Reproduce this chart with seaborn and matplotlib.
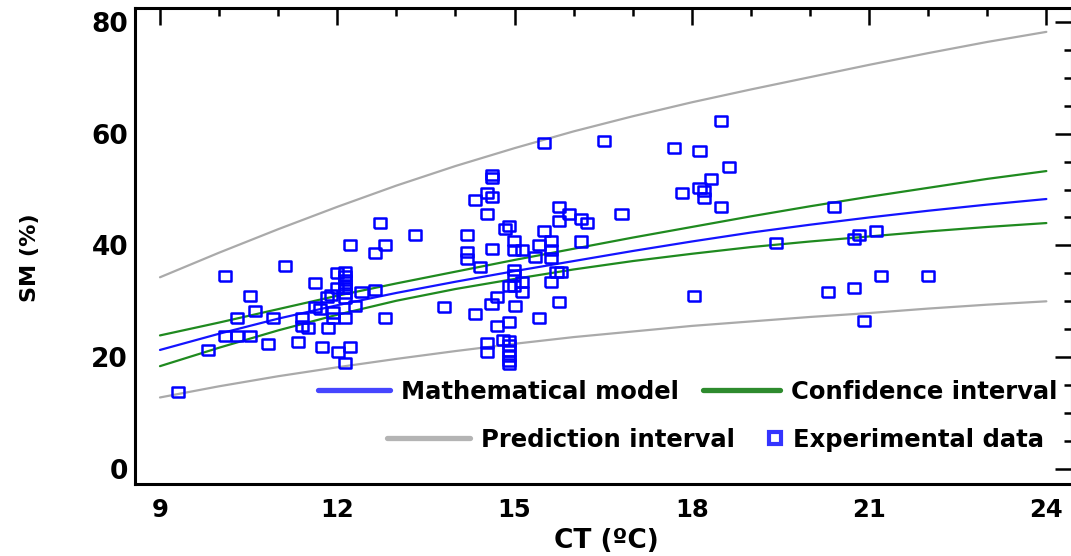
import numpy as np
import pandas as pd
import matplotlib
matplotlib.use("Agg")
import matplotlib.pyplot as plt
from matplotlib.lines import Line2D
from matplotlib.markers import MarkerStyle
from matplotlib.ticker import MultipleLocator
import seaborn as sns

# ---------------- data ----------------
ct_grid = [9, 10, 11, 12, 13, 14, 15, 16, 17, 18, 19, 20, 21, 22, 23, 24]
model_sm = [21.3, 24.2, 26.9, 29.3, 31.5, 33.5, 35.4, 37.2, 39.0, 40.7, 42.3, 43.7, 45.0, 46.2, 47.3, 48.3]
conf_upper = [23.9, 26.2, 28.6, 31.0, 33.2, 35.3, 37.4, 39.4, 41.4, 43.3, 45.2, 47.0, 48.7, 50.3, 51.9, 53.3]
conf_lower = [18.4, 21.7, 24.8, 27.6, 30.1, 32.2, 34.0, 35.7, 37.2, 38.5, 39.7, 40.7, 41.6, 42.5, 43.3, 44.0]
pred_upper = [34.3, 38.7, 42.9, 46.9, 50.7, 54.2, 57.4, 60.4, 63.1, 65.6, 67.9, 70.1, 72.3, 74.4, 76.4, 78.2]
pred_lower = [12.8, 14.8, 16.6, 18.2, 19.7, 21.1, 22.4, 23.6, 24.6, 25.6, 26.4, 27.2, 27.9, 28.7, 29.4, 30.0]

exp_ct = [9.31, 9.81, 10.10, 10.10, 10.31, 10.31, 10.52, 10.53, 10.61, 10.82,
          10.91, 11.12, 11.33, 11.41, 11.41, 11.50, 11.62, 11.62, 11.71, 11.74,
          11.84, 11.82, 11.90, 11.92, 11.92, 11.99, 11.99, 12.01, 12.13, 12.13,
          12.13, 12.13, 12.13, 12.13, 12.13, 12.13, 12.13, 12.21, 12.21, 12.30,
          12.41, 12.64, 12.64, 12.81, 12.81, 12.72, 13.31, 13.81, 14.20, 14.20,
          14.20, 14.33, 14.33, 14.41, 14.54, 14.54, 14.54, 14.54, 14.61, 14.62,
          14.62, 14.62, 14.62, 14.71, 14.71, 14.81, 14.84, 14.91, 14.91, 14.91,
          14.91, 14.91, 14.91, 14.91, 14.91, 14.91, 14.99, 14.99, 14.99, 14.99,
          14.99, 15.01, 15.13, 15.13, 15.13, 15.35, 15.42, 15.42, 15.50, 15.50,
          15.62, 15.62, 15.62, 15.62, 15.71, 15.78, 15.76, 15.76, 15.76, 15.92,
          16.13, 16.22, 16.13, 16.52, 16.81, 17.70, 17.83, 18.04, 18.13, 18.13,
          18.21, 18.21, 18.33, 18.49, 18.50, 18.63, 19.43, 20.31, 20.40, 20.74,
          20.74, 20.83, 20.91, 21.11, 21.20, 22.00]
exp_sm = [13.7, 21.3, 34.6, 23.8, 23.8, 27.1, 31.0, 23.8, 28.3, 22.4,
          27.1, 36.4, 22.8, 27.1, 25.6, 25.3, 33.2, 29.0, 28.6, 21.8,
          25.3, 30.7, 31.1, 28.0, 27.0, 35.0, 32.4, 21.0, 35.3, 34.5,
          33.8, 33.0, 32.3, 31.5, 30.6, 27.1, 18.9, 21.8, 40.1, 29.2,
          31.7, 32.1, 38.6, 40.1, 27.1, 44.0, 41.8, 28.9, 41.8, 38.8,
          37.5, 48.2, 27.8, 36.1, 49.3, 45.7, 22.5, 21.0, 29.5, 52.6,
          52.0, 48.7, 39.3, 30.8, 25.6, 23.0, 42.9, 43.5, 26.3, 32.7,
          22.9, 22.1, 21.2, 20.3, 19.4, 18.8, 40.8, 39.1, 35.6, 34.7,
          32.7, 29.2, 39.1, 33.5, 31.7, 38.0, 40.0, 27.1, 42.6, 58.4,
          40.8, 39.2, 37.7, 33.5, 35.3, 35.3, 46.9, 44.4, 29.9, 45.7,
          44.7, 44.0, 40.7, 58.7, 45.7, 57.5, 49.3, 31.0, 56.9, 50.3,
          49.8, 48.5, 51.8, 46.8, 62.3, 54.0, 40.4, 31.7, 46.8, 41.1,
          32.4, 41.9, 26.4, 42.6, 34.6, 34.6]

x_ticks = [9, 12, 15, 18, 21, 24]
y_ticks = [0, 20, 40, 60, 80]
legend_labels = ["Mathematical model", "Confidence interval",
                 "Prediction interval", "Experimental data"]
x_label = "CT (ºC)"
y_label = "SM (%)"

# ---------------- style ----------------
sns.set_style("white")
plt.rcParams["font.family"] = ["DejaVu Sans"]
plt.rcParams["font.weight"] = "bold"
for k in ["text.color", "axes.labelcolor", "xtick.color", "ytick.color"]:
    plt.rcParams[k] = "black"

W, H = 1071, 556
fig = plt.figure(figsize=(W / 100, H / 100), dpi=100)
ax_l, ax_r, ax_t, ax_b = 135, 1072, 8, 484
ax = fig.add_axes([ax_l / W, 1 - ax_b / H, (ax_r - ax_l) / W, (ax_b - ax_t) / H])

c_model = "#1414ff"
c_conf = "#1f8a1f"
c_pred = "#aaaaaa"
c_pts = "#0000ff"

lines_df = pd.DataFrame({"ct": ct_grid, "model": model_sm, "cu": conf_upper,
                         "cl": conf_lower, "pu": pred_upper, "pl": pred_lower})
for col, colr in [("pu", c_pred), ("pl", c_pred), ("cu", c_conf), ("cl", c_conf), ("model", c_model)]:
    sns.lineplot(data=lines_df, x="ct", y=col, color=colr, lw=1.6, ax=ax)

rect = MarkerStyle([(-0.6, -0.5), (0.6, -0.5), (0.6, 0.5), (-0.6, 0.5), (-0.6, -0.5)])
pts_df = pd.DataFrame({"ct": exp_ct, "sm": exp_sm})
sns.scatterplot(data=pts_df, x="ct", y="sm", marker=rect, s=75,
                facecolor="none", edgecolor=c_pts, linewidth=1.8, ax=ax, zorder=5)

ax.set_xlim(8.577, 24.434)
ax.set_ylim(-2.68, 82.47)
ax.set_xticks(x_ticks)
ax.set_yticks(y_ticks)
ax.xaxis.set_minor_locator(MultipleLocator(1))
ax.yaxis.set_minor_locator(MultipleLocator(5))
ax.tick_params(which="both", direction="in", top=True, right=True, width=1.8, color="black")
ax.tick_params(which="major", length=12)
ax.tick_params(which="minor", length=5.5)
ax.tick_params(axis="y", which="major", labelsize=19, pad=5)
ax.tick_params(axis="x", which="major", labelsize=17.5, pad=10)
for lab in ax.get_xticklabels() + ax.get_yticklabels():
    lab.set_fontweight("bold")
for sp in ax.spines.values():
    sp.set_linewidth(2.2)
    sp.set_color("black")

ax.set_xlabel(x_label, fontsize=19, fontweight="bold")
ax.set_ylabel(y_label, fontsize=16, fontweight="bold")
ax.xaxis.set_label_coords(0.503, -0.093)
ax.yaxis.set_label_coords(-0.1016, 0.475)

# ---------------- legend ----------------
handles = [Line2D([], [], color="#4646ff", lw=3.8),
           Line2D([], [], color="#2e8b2e", lw=3.8),
           Line2D([], [], color="#b4b4b4", lw=3.8),
           Line2D([], [], ls="none", marker="s", markersize=8, mfc="white",
                  mec="#3434ff", mew=3)]
fs_leg = 17.5
positions = [(318, 392, 72), (703, 392, 77), (387, 440, 83), (768, 440, 14)]
for h, lab, (px, py, hl_px) in zip(handles, legend_labels, positions):
    fig.legend(handles=[h], labels=[lab], loc="center left",
               bbox_to_anchor=(px / W, 1 - py / H), frameon=False,
               borderpad=0, borderaxespad=0,
               handlelength=hl_px / (fs_leg * 100 / 72),
               handletextpad=0.45,
               prop={"size": fs_leg, "weight": "bold"})

fig.savefig("out.png", dpi=100)
